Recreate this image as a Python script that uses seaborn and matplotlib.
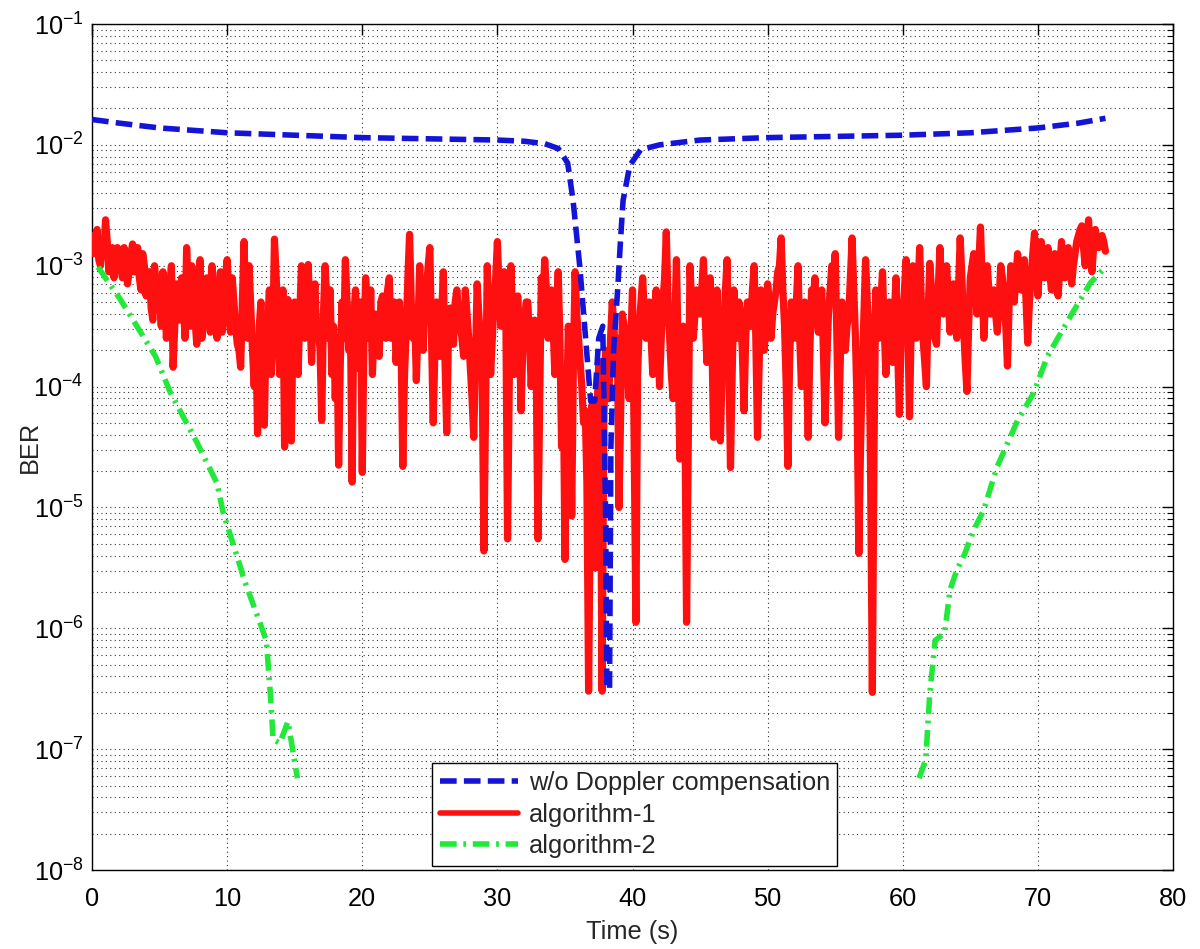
import numpy as np
import pandas as pd
import matplotlib
matplotlib.use("Agg")
import matplotlib.pyplot as plt
import seaborn as sns
from matplotlib.ticker import LogLocator, NullFormatter, FixedLocator
from matplotlib.lines import Line2D

# ---------------- data (BER given as log10 exponents) ----------------
blue_t = [0, 2, 5, 10, 15, 20, 25, 30, 32, 33.5, 34.5, 35.2, 35.6, 36.1, 36.5,
          36.9, 37.2, 37.5, 37.8, 38.0, 38.1, 38.3, 38.4, 38.6, 38.9, 39.1,
          39.3, 39.8, 40.6, 42, 45, 50, 55, 60, 65, 70, 73, 75]
blue_log = [-1.79, -1.82, -1.86, -1.90, -1.92, -1.94, -1.95, -1.96, -1.97, -1.99,
            -2.03, -2.15, -2.46, -3.01, -3.56, -4.12, -4.12, -3.60, -3.50, -5.00,
            -6.50, -6.50, -4.50, -3.70, -3.20, -2.81, -2.46, -2.17, -2.04, -2.00,
            -1.96, -1.94, -1.93, -1.92, -1.90, -1.86, -1.82, -1.78]

# algorithm-1 samples at t = 0, 0.25, 0.5, ... 75 s
red_log_a = [
    -2.75, -2.85, -2.95, -2.78,  -2.62, -3.05, -2.85, -3.00,  -2.90, -3.10, -2.95, -3.05,
    -2.82, -2.95, -3.10, -2.90,  -3.25, -3.05, -3.45, -3.15,  -3.30, -3.05, -3.60, -3.20,
    -3.84, -3.15, -3.45, -3.20,  -2.85, -3.50, -3.25, -3.65,  -2.95, -3.35, -3.10, -3.55,
    -3.20, -3.60, -3.05, -3.45,  -2.95, -3.55, -3.30, -3.65,  -3.84, -2.80, -3.60, -3.35,
    -4.00, -4.39, -3.30, -4.32,  -3.50, -3.90, -2.78, -3.40,  -3.70, -4.50, -3.28, -4.45,
    -3.30, -3.90, -3.00, -3.60,  -2.99, -3.80, -3.15, -3.50,  -4.28, -3.00, -3.60, -3.90,
    -4.10, -4.65, -3.30, -2.95,  -3.70, -4.79, -3.20, -3.85,  -4.71, -3.10, -3.60, -3.90,
    -3.40, -3.75, -3.25, -3.60,  -3.10, -3.45, -3.80, -3.30,  -4.66, -3.55, -2.74, -3.60,
    -3.95, -3.00, -3.70, -3.20,  -2.85, -4.30, -3.30, -3.75,  -3.05, -4.38, -3.35, -3.65,
    -3.20, -3.50, -3.75, -3.40,  -3.85, -4.42, -3.15, -3.60,  -5.36, -3.00, -3.90, -3.30,
    -2.80, -3.50, -3.05, -5.26,  -3.00, -3.90, -3.25, -4.20,  -3.50, -3.30, -4.00, -3.45,
    -5.26, -3.10, -2.95, -3.60,  -3.20, -3.90, -3.05, -4.50,  -5.43, -3.50, -5.07, -3.05,
    -3.60, -4.00, -4.20, -6.52,  -4.15, -5.50, -3.80, -6.52,  -3.70, -4.10, -3.30, -3.90,
    -5.00, -3.40, -3.80, -4.10,  -3.20, -5.95, -3.50, -3.10,  -3.60, -3.30, -3.90, -3.20,
    -4.00, -3.30, -2.72, -3.60,  -4.10, -2.95, -4.60, -3.50,  -5.95, -3.00, -3.60, -3.20,
    -3.40, -2.95, -3.80, -3.10,  -4.42, -3.20, -4.45, -3.50,  -2.95, -4.67, -3.20, -3.60,
    -3.40, -4.20, -3.30, -3.50,  -3.00, -4.42, -3.20, -3.70,  -3.15, -3.60, -3.30, -3.05,
    -2.77, -3.50, -4.66, -3.30,  -3.60, -3.00, -4.00, -3.30,  -4.42, -3.20, -3.10, -3.55,
    -3.20, -4.30, -3.40, -3.00,  -2.90, -4.42, -3.30, -3.70,  -3.40, -2.77, -3.60, -5.38,
    -3.90, -2.95, -3.50, -6.53,  -3.20, -3.60, -3.05, -3.90,  -3.30, -3.80, -3.10, -4.23,
    -3.40, -2.95, -4.25, -3.00,  -3.60, -2.85, -3.60, -4.00,  -2.98, -3.50, -3.65, -2.85,
    -3.40, -3.00, -3.55, -3.15,  -3.60, -2.77, -3.50, -4.04,  -3.10, -2.90, -3.40, -2.68,
    -3.60, -3.00, -3.40, -3.20,  -3.55, -3.00, -3.30, -3.83,  -3.00, -3.30, -2.90, -3.20,
    -2.95, -3.64, -3.10, -2.73,  -3.25, -2.80, -3.10, -2.85,  -3.20, -2.90, -3.25, -2.80,
    -3.10, -2.85, -3.15, -2.90,  -2.75, -2.67, -3.00, -2.62,  -3.05, -2.70, -2.85, -2.75,
    -2.88]
# algorithm-1 samples at t = 0.125, 0.375, ... 74.875 s
red_log_b = [
    -2.90, -2.70, -3.00, -2.90,  -2.80, -2.95, -3.10, -2.85,  -3.00, -2.85, -3.15, -2.90,
    -3.05, -2.85, -3.20, -3.00,  -3.10, -3.35, -3.00, -3.30,  -3.50, -3.15, -3.40, -3.00,
    -3.50, -3.30, -3.10, -3.60,  -3.20, -3.00, -3.45, -3.10,  -3.60, -3.20, -3.40, -3.00,
    -3.40, -3.30, -3.55, -3.10,  -3.25, -3.10, -3.50, -3.70,  -3.30, -3.40, -3.00, -3.70,
    -3.60, -3.50, -3.90, -3.60,  -3.20, -3.60, -3.10, -3.90,  -3.20, -3.60, -3.90, -3.50,
    -3.60, -3.40, -3.30, -3.20,  -3.40, -3.30, -3.60, -3.70,  -3.40, -3.30, -3.20, -3.50,
    -3.60, -3.80, -3.60, -3.30,  -3.50, -3.40, -3.60, -3.30,  -3.60, -3.40, -3.20, -3.50,
    -3.70, -3.30, -3.50, -3.20,  -3.60, -3.30, -3.50, -3.70,  -3.90, -3.10, -3.30, -3.40,
    -3.50, -3.40, -3.30, -3.00,  -3.60, -3.70, -3.50, -3.40,  -3.80, -3.60, -3.50, -3.30,
    -3.40, -3.60, -3.20, -3.60,  -4.10, -3.80, -3.40, -3.90,  -4.20, -3.40, -3.60, -3.10,
    -3.20, -3.30, -3.40, -4.00,  -3.40, -3.60, -3.50, -3.70,  -3.30, -3.60, -3.70, -3.90,
    -4.20, -3.30, -3.20, -3.40,  -3.50, -3.40, -3.60, -3.90,  -4.20, -3.90, -3.80, -3.40,
    -3.80, -4.30, -4.80, -5.00,  -4.60, -4.20, -4.50, -4.30,  -3.80, -3.60, -3.50, -3.60,
    -4.20, -3.50, -3.90, -3.60,  -4.50, -3.90, -3.30, -3.40,  -3.50, -3.60, -3.40, -3.50,
    -3.60, -3.10, -3.30, -3.90,  -3.50, -3.70, -3.90, -4.20,  -4.50, -3.30, -3.40, -3.30,
    -3.20, -3.40, -3.30, -3.60,  -3.70, -3.80, -3.90, -3.20,  -3.80, -3.90, -3.40, -3.30,
    -3.70, -3.60, -3.40, -3.20,  -3.60, -3.80, -3.50, -3.40,  -3.30, -3.40, -3.20, -3.00,
    -3.20, -4.00, -3.80, -3.50,  -3.30, -3.60, -3.50, -3.80,  -3.70, -3.30, -3.40, -3.30,
    -3.70, -3.80, -3.20, -3.10,  -3.60, -3.80, -3.50, -3.50,  -3.10, -3.20, -4.20, -4.50,
    -3.40, -3.30, -4.80, -4.50,  -3.40, -3.30, -3.50, -3.60,  -3.50, -3.40, -3.70, -3.60,
    -3.20, -3.50, -3.50, -3.30,  -3.20, -3.30, -3.80, -3.40,  -3.20, -3.60, -3.20, -3.20,
    -3.20, -3.30, -3.40, -3.30,  -3.20, -3.10, -3.80, -3.50,  -3.00, -3.20, -3.00, -3.10,
    -3.30, -3.20, -3.30, -3.40,  -3.30, -3.10, -3.50, -3.30,  -3.10, -3.10, -3.05, -3.10,
    -3.30, -3.30, -2.90, -3.00,  -3.00, -2.95, -3.00, -3.05,  -3.05, -3.10, -3.00, -3.00,
    -2.95, -3.00, -3.00, -2.80,  -2.70, -2.85, -2.80, -2.85,  -2.85, -2.80, -2.80, -2.80]
red_step = 0.125

green_left_t = [0.44, 2.1, 4.7, 5.8, 7.8, 9.25, 9.7, 11.0, 11.2, 12.9, 13.2, 13.4,
                13.9, 14.5, 15.2]
green_left_log = [-3.01, -3.28, -3.75, -4.05, -4.47, -4.80, -5.04, -5.50, -5.58,
                  -6.10, -6.55, -6.92, -6.95, -6.77, -7.24]
green_right_t = [61.2, 61.7, 62.0, 62.4, 63.1, 63.5, 64.0, 64.6, 65.2, 66.0, 66.6,
                 67.0, 68.5, 69.7, 70.7, 72.4, 73.9, 75.1]
green_right_log = [-7.24, -7.09, -6.54, -6.10, -6.04, -5.68, -5.52, -5.38, -5.20,
                   -5.02, -4.80, -4.66, -4.28, -4.05, -3.75, -3.42, -3.14, -3.00]

labels = ["w/o Doppler compensation", "algorithm-1", "algorithm-2"]
x_ticks = [0, 10, 20, 30, 40, 50, 60, 70, 80]

# merge the two sample lists of algorithm-1 in time order
red_log = []
for i, v in enumerate(red_log_a):
    red_log.append(v)
    if i < len(red_log_b):
        red_log.append(red_log_b[i])
red_t = [round(k * red_step, 3) for k in range(len(red_log))]

# ---------------- style ----------------
sns.set_style("white")
plt.rcParams["font.family"] = ["Liberation Sans", "DejaVu Sans"]
plt.rcParams["mathtext.fontset"] = "custom"
plt.rcParams["mathtext.rm"] = "Liberation Sans"
plt.rcParams["mathtext.it"] = "Liberation Sans:italic"
plt.rcParams["mathtext.bf"] = "Liberation Sans:bold"

BLUE = "#1414d6"
RED = "#ff1010"
GREEN = "#22e83a"
LW = 4.0
LW_RED = 5.2
FS = 18.3

fig = plt.figure(figsize=(12, 9.49), dpi=100)
ax = fig.add_axes([0.0767, 0.0832, 0.9008, 0.8915])

df_blue = pd.DataFrame({"t": blue_t, "ber": 10.0 ** np.array(blue_log)})
df_red = pd.DataFrame({"t": red_t, "ber": 10.0 ** np.array(red_log)})
df_gl = pd.DataFrame({"t": green_left_t, "ber": 10.0 ** np.array(green_left_log)})
df_gr = pd.DataFrame({"t": green_right_t, "ber": 10.0 ** np.array(green_right_log)})

dash_blue = (0, (3.0, 1.3))
dash_green = (0, (3.0, 1.2, 0.5, 1.2))

sns.lineplot(data=df_red, x="t", y="ber", ax=ax, color=RED, lw=LW_RED,
             estimator=None, sort=False, zorder=3)
sns.lineplot(data=df_blue, x="t", y="ber", ax=ax, color=BLUE, lw=LW,
             estimator=None, sort=False, linestyle=dash_blue, zorder=4)
sns.lineplot(data=df_gl, x="t", y="ber", ax=ax, color=GREEN, lw=LW,
             estimator=None, sort=False, linestyle=dash_green, zorder=5)
sns.lineplot(data=df_gr, x="t", y="ber", ax=ax, color=GREEN, lw=LW,
             estimator=None, sort=False, linestyle=dash_green, zorder=5)

ax.set_yscale("log")
ax.set_xlim(0, 80)
ax.set_ylim(1e-8, 1e-1)
ax.xaxis.set_major_locator(FixedLocator(x_ticks))
ax.set_xticklabels([str(v) for v in x_ticks])
ax.yaxis.set_major_locator(LogLocator(base=10, numticks=20))
ax.yaxis.set_minor_locator(LogLocator(base=10, subs=np.arange(2, 10), numticks=100))
ax.yaxis.set_minor_formatter(NullFormatter())

grid_ls = (0, (1, 3))
ax.grid(True, which="major", axis="both", color="black", linestyle=grid_ls,
        linewidth=0.8, alpha=0.8)
ax.grid(True, which="minor", axis="y", color="black", linestyle=grid_ls,
        linewidth=0.8, alpha=0.8)
ax.set_axisbelow(True)

ax.tick_params(which="both", direction="in", top=True, right=True,
               labelsize=FS, colors="black")
ax.tick_params(which="major", length=8, width=1)
ax.tick_params(which="minor", length=4, width=0.8)
ax.tick_params(axis="x", pad=12)
ax.tick_params(axis="y", pad=6)
for s in ax.spines.values():
    s.set_visible(True)
    s.set_color("black")
    s.set_linewidth(1.0)

ax.set_xlabel("Time (s)", fontsize=FS, labelpad=7)
ax.set_ylabel("BER", fontsize=FS, labelpad=-6)

handles = [
    Line2D([], [], color=BLUE, lw=LW, linestyle=dash_blue),
    Line2D([], [], color=RED, lw=LW),
    Line2D([], [], color=GREEN, lw=LW, linestyle=dash_green),
]
leg = ax.legend(handles, labels, loc="lower left",
                bbox_to_anchor=(0.3145, 0.005), fontsize=FS, frameon=True,
                fancybox=False, edgecolor="black", framealpha=1,
                handlelength=3.1, handletextpad=0.4, borderpad=0.3,
                labelspacing=0.3, borderaxespad=0)
leg.get_frame().set_linewidth(1.0)
leg.set_zorder(10)

fig.savefig("out.png", dpi=100, facecolor="white")
